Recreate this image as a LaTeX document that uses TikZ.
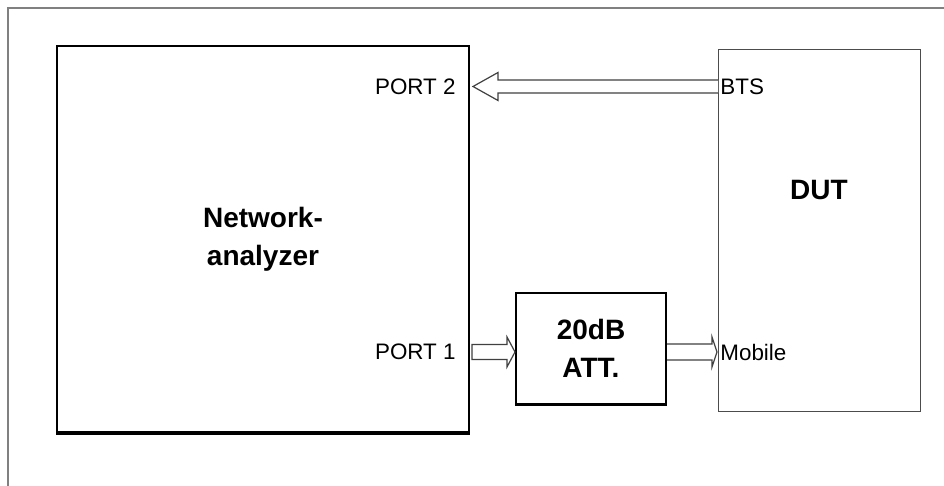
\documentclass[tikz,border=0pt]{standalone}
\usepackage{fontspec}
\setmainfont{Liberation Sans}
\usepackage{tikz}
\usetikzlibrary{calc}

\begin{document}
\begin{tikzpicture}[x=0.5pt,y=-0.5pt,
  bigtext/.style={font=\bfseries\fontsize{14}{19}\selectfont, align=center},
  porttext/.style={font=\fontsize{11.2}{13}\selectfont, inner sep=0pt},
  blockarrow/.style={draw=black!75, fill=white, line width=0.6pt}]
\useasboundingbox (0,0) rectangle (944,486);
\draw[gray, line width=0.6pt] (944,8)--(8,8)--(8,486);

\node[draw, line width=1pt, minimum width=206pt, minimum height=193pt, bigtext] (na) at (263,239) {Network-\\analyzer};
\draw[line width=1.6pt] (na.south west)--(na.south east);

\node[draw=black!70, line width=0.5pt, minimum width=101pt, minimum height=181pt] (dut) at (819,231) {};
\node[bigtext] (dutlabel) at (819,190) {DUT};

\node[draw, line width=0.8pt, minimum width=75pt, minimum height=55.5pt, bigtext] (att) at (591,348.5) {20dB\\ATT.};
\draw[line width=1.2pt] (att.south west)--(att.south east);

\node[porttext, anchor=east] (port2) at (456,87) {PORT 2};
\node[porttext, anchor=west] (bts) at (720,87) {BTS};
\node[porttext, anchor=east] (port1) at (456,352) {PORT 1};
\node[porttext, anchor=west] (mobile) at (720,352) {Mobile};

\coordinate (btsport) at (718,86.5);
\coordinate (port2in) at (473,86.5);
\coordinate (port1out) at (472,352);
\coordinate (attin) at (515,352);
\coordinate (attout) at (667,352);
\coordinate (mobilein) at (717,352);

% BTS -> PORT 2
\draw[blockarrow] ($(btsport)+(0,-6.5)$)--($(port2in)+(25,-6.5)$)--($(port2in)+(25,-14)$)--(port2in)
  --($(port2in)+(25,14)$)--($(port2in)+(25,6.5)$)--($(btsport)+(0,6.5)$);

% PORT 1 -> attenuator
\draw[blockarrow] ($(port1out)+(0,-7.5)$)--($(attin)+(-8,-7.5)$)--($(attin)+(-8,-15)$)--(attin)
  --($(attin)+(-8,15)$)--($(attin)+(-8,7.5)$)--($(port1out)+(0,7.5)$)--cycle;

% attenuator -> Mobile
\draw[blockarrow] ($(attout)+(0,-8)$)--($(mobilein)+(-5,-8)$)--($(mobilein)+(-5,-15)$)--(mobilein)
  --($(mobilein)+(-5,15)$)--($(mobilein)+(-5,8)$)--($(attout)+(0,8)$);
\end{tikzpicture}
\end{document}
